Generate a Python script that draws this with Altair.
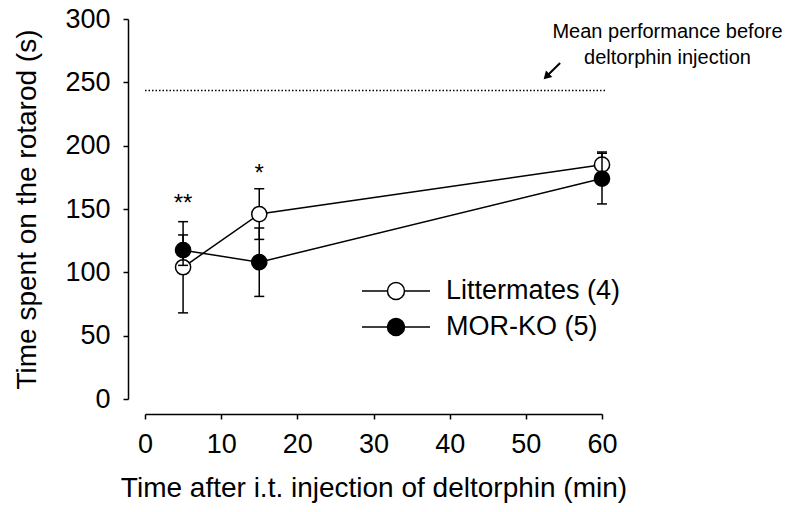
import altair as alt
import pandas as pd

# ---------------- data ----------------
time_min = [5, 15, 60]
groups = ["Littermates (4)", "MOR-KO (5)"]
litter_mean = [104, 146, 185]
litter_sem = [36, 20, 10]
ko_mean = [117.5, 108, 174]
ko_sem = [12, 27, 20]

baseline_value = 243.5          # mean performance before injection
baseline_span = [0, 60.6]
star_time = [5, 15]
star_text = ["**", "*"]
star_y = [154, 178]
note_lines = ["Mean performance before", "deltorphin injection"]
note_x = [68.6, 68.6]
note_y = [289.5, 269.5]
arrow_from = [54.5, 265.3]
arrow_to = [52.7, 254.6]

x_ticks = [0, 10, 20, 30, 40, 50, 60]
y_ticks = [0, 50, 100, 150, 200, 250, 300]

FONT = "Liberation Sans"
FS_LAB = 27
FS_TITLE = 28

rows = []
for g, means, sems in [(groups[0], litter_mean, litter_sem), (groups[1], ko_mean, ko_sem)]:
    for t, m, s in zip(time_min, means, sems):
        rows.append({"group": g, "t": t, "mean": m, "lo": m - s, "hi": m + s})
df = pd.DataFrame(rows)

x_scale = alt.Scale(domain=[0, 60], nice=False, zero=False)
y_scale = alt.Scale(domain=[0, 300], nice=False)

x_axis = alt.Axis(values=x_ticks, title="Time after i.t. injection of deltorphin (min)",
                  offset=15, grid=False, domainColor="black", domainWidth=1.5,
                  tickColor="black", tickWidth=1.5, tickSize=5, labelFontSize=FS_LAB,
                  labelFont=FONT, labelColor="black", labelPadding=12, titleFont=FONT,
                  titleFontSize=FS_TITLE, titleFontWeight="normal", titleColor="black",
                  titlePadding=17, labelFlush=False)
y_axis = alt.Axis(values=y_ticks, title="Time spent on the rotarod (s)",
                  offset=17, grid=False, domainColor="black", domainWidth=1.5,
                  tickColor="black", tickWidth=1.5, tickSize=5, labelFontSize=FS_LAB,
                  labelFont=FONT, labelColor="black", labelPadding=13, titleFont=FONT,
                  titleFontSize=FS_TITLE, titleFontWeight="normal", titleColor="black",
                  titlePadding=23, labelFlush=False)

X = alt.X("t:Q", scale=x_scale, axis=x_axis)
# legend glyph: a short line with the marker circle in its middle
LEG_PATH = ("M-2,0L-0.5,0M0.5,0L2,0M-0.5,0A0.5,0.5,0,1,0,0.5,0"
            "A0.5,0.5,0,1,0,-0.5,0Z")

legend = alt.Legend(orient="none", legendX=233, legendY=254, title=None,
                    symbolType=LEG_PATH, symbolSize=1156, symbolStrokeColor="black",
                    symbolStrokeWidth=1.5, symbolOpacity=1, labelFontSize=FS_LAB,
                    labelFont=FONT, labelColor="black", labelOffset=32, padding=0,
                    rowPadding=5, labelLimit=400)

fill_scale = alt.Scale(domain=groups, range=["white", "black"])

base = alt.Chart(df)
layers = []
for g in groups:
    sub = base.transform_filter(alt.datum.group == g)
    err = sub.mark_rule(color="black", strokeWidth=1.5).encode(
        x=X, y=alt.Y("lo:Q", scale=y_scale, axis=y_axis), y2="hi:Q")
    cap_lo = sub.mark_tick(color="black", orient="horizontal", size=10, thickness=1.5,
                           opacity=1).encode(x=X, y=alt.Y("lo:Q", scale=y_scale))
    cap_hi = sub.mark_tick(color="black", orient="horizontal", size=10, thickness=1.5,
                           opacity=1).encode(x=X, y=alt.Y("hi:Q", scale=y_scale))
    line = sub.mark_line(color="black", strokeWidth=1.5).encode(
        x=X, y=alt.Y("mean:Q", scale=y_scale))
    pts = sub.mark_point(shape="circle", filled=True, size=230, stroke="black",
                         strokeWidth=1.5, opacity=1).encode(
        x=X, y=alt.Y("mean:Q", scale=y_scale),
        fill=alt.Fill("group:N", scale=fill_scale, legend=legend))
    layers += [err, cap_lo, cap_hi, line, pts]

base_df = pd.DataFrame({"t": [baseline_span[0]], "t2": [baseline_span[1]], "v": [baseline_value]})
baseline = alt.Chart(base_df).mark_rule(color="black", strokeWidth=1.5, strokeDash=[1.5, 2]).encode(
    x=alt.X("t:Q", scale=x_scale), x2="t2:Q", y=alt.Y("v:Q", scale=y_scale))

star_df = pd.DataFrame({"t": star_time, "y": star_y, "s": star_text})
stars = alt.Chart(star_df).mark_text(font=FONT, fontSize=24, baseline="middle",
                                     color="black").encode(
    x=alt.X("t:Q", scale=x_scale), y=alt.Y("y:Q", scale=y_scale), text="s:N")

note_df = pd.DataFrame({"t": note_x, "y": note_y, "s": note_lines})
note = alt.Chart(note_df).mark_text(font=FONT, fontSize=20, baseline="middle",
                                    align="center", color="black").encode(
    x=alt.X("t:Q", scale=x_scale), y=alt.Y("y:Q", scale=y_scale), text="s:N")

arr_df = pd.DataFrame({"t": [arrow_from[0]], "y": [arrow_from[1]],
                       "t2": [arrow_to[0]], "y2": [arrow_to[1]]})
arrow_shaft = alt.Chart(arr_df).mark_rule(color="black", strokeWidth=2).encode(
    x=alt.X("t:Q", scale=x_scale), y=alt.Y("y:Q", scale=y_scale), x2="t2:Q", y2="y2:Q")
arrow_head = alt.Chart(arr_df).mark_point(shape="triangle-up", filled=True, size=80,
                                          color="black", opacity=1, angle=225).encode(
    x=alt.X("t2:Q", scale=x_scale), y=alt.Y("y2:Q", scale=y_scale))

chart = alt.layer(baseline, *layers, stars, note, arrow_shaft, arrow_head).properties(
    width=457, height=380,
    autosize=alt.AutoSizeParams(type="none"),
    padding={"left": 137, "top": 11, "right": 190, "bottom": 105},
).configure(background="white").configure_view(stroke=None)

chart.save("out.html", embed_options={"renderer": "svg", "actions": False})
